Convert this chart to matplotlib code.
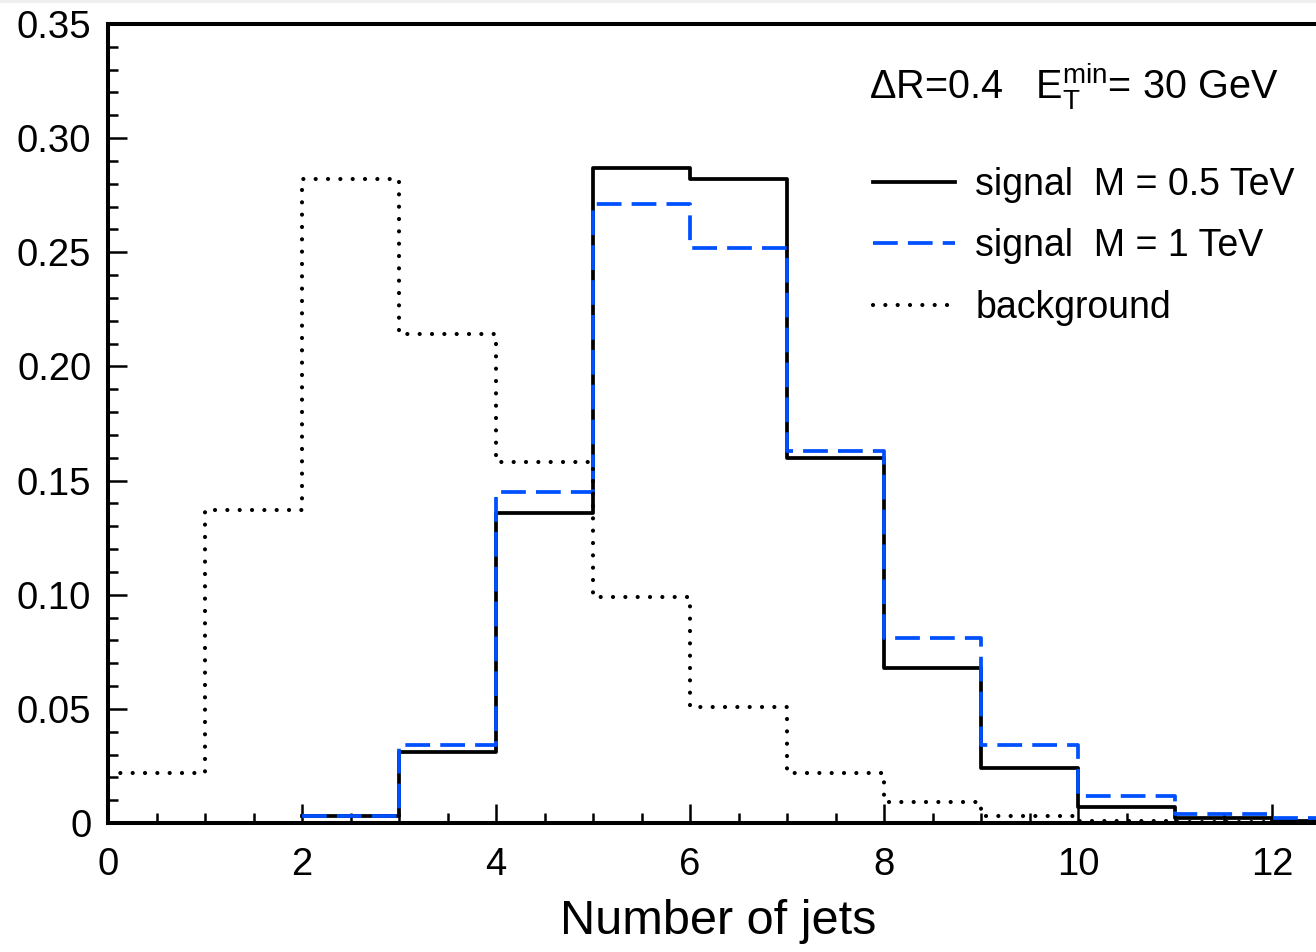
import numpy as np
import matplotlib
matplotlib.use("Agg")
import matplotlib.pyplot as plt
from matplotlib.patches import Rectangle
from matplotlib.ticker import MultipleLocator, FixedFormatter, FixedLocator

plt.rcParams['font.family'] = ['Liberation Sans', 'DejaVu Sans']
plt.rcParams['mathtext.fontset'] = 'custom'
plt.rcParams['mathtext.rm'] = 'Liberation Sans'
plt.rcParams['mathtext.it'] = 'Liberation Sans:italic'

# ---- data (fraction of events per jet multiplicity bin) ----
sig_edges = np.arange(2, 14)            # bins 2..13
sig_05 = [0.003, 0.031, 0.136, 0.287, 0.282, 0.160, 0.068, 0.024, 0.007, 0.002, 0.001]
sig_1 = [0.003, 0.034, 0.145, 0.271, 0.252, 0.163, 0.081, 0.034, 0.012, 0.004, 0.002]

bkg_edges = np.arange(0, 13)            # bins 0..12
bkg = [0.022, 0.137, 0.282, 0.214, 0.158, 0.099, 0.051, 0.022, 0.009, 0.003, 0.001, 0.0005]

labels = ["signal  M = 0.5 TeV", "signal  M = 1 TeV", "background"]
y_ticks = [0, 0.05, 0.10, 0.15, 0.20, 0.25, 0.30, 0.35]
y_ticklabels = ["0", "0.05", "0.10", "0.15", "0.20", "0.25", "0.30", "0.35"]


def steps(edges, vals):
    # histogram outline: repeat last value so the final bin gets its top edge
    return edges, list(vals) + [vals[-1]]


W, H = 1316, 952
fig = plt.figure(figsize=(W / 100, H / 100), dpi=100)
# thin grey strip along the top edge, as in the scanned original
fig.patches.append(Rectangle((0, 1 - 3 / H), 1, 3 / H, transform=fig.transFigure,
                             facecolor='#efefef', edgecolor='none', zorder=-1))

ax_w = W - 108 + 13
ax = fig.add_axes([108 / W, (H - 823) / H, ax_w / W, (823 - 24) / H])

x, y = steps(sig_edges, sig_05)
ax.step(x, y, where='post', color='black', lw=2.7, label=labels[0])
x, y = steps(sig_edges, sig_1)
ax.step(x, y, where='post', color='#0050ff', lw=2.7,
        dashes=(6.6, 2.7), label=labels[1])
x, y = steps(bkg_edges, bkg)
ax.step(x, y, where='post', color='black', lw=3.0,
        dashes=(0.01, 2.95), dash_capstyle='round', label=labels[2])

ax.set_xlim(0, ax_w / 97.0)
ax.set_ylim(0, 0.35)

ax.xaxis.set_major_locator(MultipleLocator(2))
ax.xaxis.set_minor_locator(MultipleLocator(0.5))
ax.yaxis.set_major_locator(FixedLocator(y_ticks))
ax.yaxis.set_major_formatter(FixedFormatter(y_ticklabels))
ax.yaxis.set_minor_locator(MultipleLocator(0.01))

ax.tick_params(which='both', direction='in', top=False, right=False, width=1.8)
ax.tick_params(which='major', length=14, labelsize=27.5)
ax.tick_params(axis='x', which='major', pad=17)
ax.tick_params(axis='y', which='major', pad=12)
ax.tick_params(which='minor', length=7)

for side in ['left', 'bottom', 'top']:
    ax.spines[side].set_linewidth(2.9)
ax.spines['right'].set_visible(False)

ax.set_xlabel("Number of jets", fontsize=35, labelpad=12)

fig.text(1278 / W, 1 - 86 / H, "ΔR=0.4   E$_\\mathrm{T}^\\mathrm{min}$= 30 GeV",
         ha='right', va='center', fontsize=28.5)

leg = ax.legend(loc='upper left', bbox_to_anchor=(873 / W, 1 - 167 / H),
                bbox_transform=fig.transFigure, frameon=False, fontsize=27,
                handlelength=2.2, handletextpad=0.53, labelspacing=0.68,
                borderpad=0, borderaxespad=0)

fig.savefig("out.png", dpi=100)
